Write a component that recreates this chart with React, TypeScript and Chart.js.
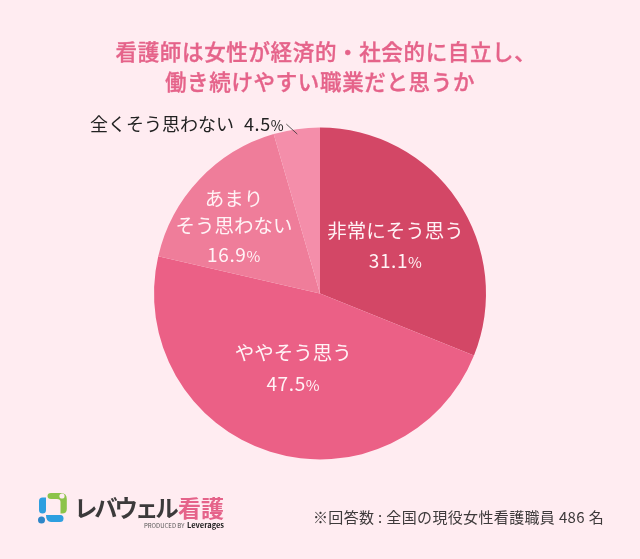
import React, { useEffect, useRef } from "react";
import { Chart, registerables } from "chart.js";

Chart.register(...registerables);

const FONT = '"Noto Sans CJK JP", "Noto Sans", sans-serif';

const titleLines = ["看護師は女性が経済的・社会的に自立し、", "働き続けやすい職業だと思うか"];
const categories = ["非常にそう思う", "ややそう思う", "あまり\nそう思わない", "全くそう思わない"];
const values = [31.1, 47.5, 16.9, 4.5];
const sliceColors = ["#D34766", "#EB6086", "#EF7D9A", "#F48EAA"];
const footnote = "※回答数 : 全国の現役女性看護職員 486 名";

const labelRadius = [0.535, 0.475, 0.655];
const labelShift = [[2, 3], [-3, 0], [-7, 12]];
const lineGap = 27;
const valueGap = [30, 31, 29];
const titleShift = [6, 0];

function drawValue(ctx: CanvasRenderingContext2D, value: number, x: number, y: number, color: string, align: "center" | "right", numSize: number, pctSize: number) {
  const num = value.toFixed(1);
  ctx.fillStyle = color;
  ctx.textBaseline = "alphabetic";
  ctx.textAlign = "left";
  (ctx as any).letterSpacing = "0.6px";
  ctx.font = `400 ${numSize}px ${FONT}`;
  const nw = ctx.measureText(num).width;
  ctx.font = `400 ${pctSize}px ${FONT}`;
  const pw = ctx.measureText("%").width;
  const left = align === "center" ? x - (nw + pw) / 2 : x - (nw + pw);
  ctx.font = `400 ${numSize}px ${FONT}`;
  ctx.fillText(num, left, y);
  ctx.font = `400 ${pctSize}px ${FONT}`;
  ctx.fillText("%", left + nw, y);
  (ctx as any).letterSpacing = "0px";
}

const sliceLabels = {
  id: "sliceLabels",
  afterDatasetsDraw(chart: any) {
    const { ctx } = chart;
    const arcs = chart.getDatasetMeta(0).data;
    ctx.save();
    arcs.forEach((arc: any, i: number) => {
      const mid = (arc.startAngle + arc.endAngle) / 2;
      if (i < 3) {
        const cx = arc.x + Math.cos(mid) * arc.outerRadius * labelRadius[i] + labelShift[i][0];
        const cy = arc.y + Math.sin(mid) * arc.outerRadius * labelRadius[i] + labelShift[i][1];
        const lines = categories[i].split("\n");
        let y = cy - (lines.length * 32 + 31) / 2 + 23;
        lines.forEach((line: string, k: number) => {
          ctx.fillStyle = "#FFF3F6";
          ctx.textAlign = "center";
          ctx.textBaseline = "alphabetic";
          ctx.font = `400 19.5px ${FONT}`;
          ctx.fillText(line, cx, y);
          if (k < lines.length - 1) y += lineGap;
        });
        drawValue(ctx, values[i], cx, y + valueGap[i], "#FFF3F6", "center", 19, 15);
      } else {
        const ex = arc.x + Math.cos(mid) * arc.outerRadius * 0.97;
        const ey = arc.y + Math.sin(mid) * arc.outerRadius * 0.97;
        ctx.strokeStyle = "#333333";
        ctx.lineWidth = 0.8;
        ctx.beginPath();
        ctx.moveTo(ex, ey);
        ctx.lineTo(ex - 11, ey - 10);
        ctx.stroke();
        const right = ex - 13;
        const by = ey - 3;
        drawValue(ctx, values[i], right, by, "#222222", "right", 18, 14);
        (ctx as any).letterSpacing = "0.6px";
        ctx.font = `400 18px ${FONT}`;
        const nw = ctx.measureText(values[i].toFixed(1)).width;
        (ctx as any).letterSpacing = "0px";
        ctx.fillStyle = "#222222";
        ctx.textAlign = "right";
        ctx.fillText(categories[i], right - nw - 23.5, by);
      }
    });
    ctx.restore();
  },
};

function Logo() {
  return (
    <svg width={70} height={50} style={{ position: "absolute", left: 30, top: 485 }}>
      <path d="M17.500 11 Q17.500 8 21 8 L31 8 Q36.800 8 36.800 14 L36.800 24 Q36.800 28.500 32 28.500 L30.500 28.500 L30.500 17 Q30.500 14 27 14 L21 14 Q17.500 14 17.500 11 Z" fill="#8CC34A" />
      <circle cx="32" cy="11" r="2.600" fill="#FFEDF1" />
      <path d="M9 16 Q9 12.500 12.500 12.500 L16 12.500 L16 25 Q16 28.500 12.500 28.500 Q9 28.500 9 25 Z" fill="#2E9FE0" />
      <path d="M16 30 L30.500 30 Q33.500 30 33.500 33.500 Q33.500 37 30 37 L21 37 Q16 37 16 30 Z" fill="#2E9FE0" />
      <circle cx="11.500" cy="35" r="3.500" fill="#2E86C8" />
    </svg>
  );
}

const abs: React.CSSProperties = { position: "absolute", whiteSpace: "nowrap", fontFamily: FONT, margin: 0 };

export default function App() {
  const ref = useRef<HTMLCanvasElement>(null);
  useEffect(() => {
    const chart = new Chart(ref.current!, {
      type: "pie",
      data: {
        labels: categories,
        datasets: [{ data: values, backgroundColor: sliceColors, borderWidth: 0 }],
      },
      options: {
        responsive: false,
        animation: false,
        layout: { padding: { top: 127, bottom: 99, left: 154, right: 154 } },
        plugins: { legend: { display: false }, tooltip: { enabled: false } },
      },
      plugins: [sliceLabels],
    });
    return () => chart.destroy();
  }, []);

  return (
    <div style={{ position: "fixed", left: 0, top: 0, width: 640, height: 559, background: "#FFECF1", overflow: "hidden" }}>
      <canvas ref={ref} width={640} height={559} style={{ position: "absolute", left: 0, top: 0, width: 640, height: 559 }} />
      {titleLines.map((t, i) => (
        <div key={t} style={{ ...abs, left: titleShift[i], width: 640, textAlign: "center", top: 36 + i * 30, fontSize: 21.5, lineHeight: "30px", fontWeight: 500, letterSpacing: 0.65, WebkitTextStroke: "0.35px #E5638A", color: "#E5638A" }}>
          {t}
        </div>
      ))}
      <Logo />
      <div style={{ ...abs, left: 74, top: 490, fontSize: 23.5, lineHeight: "34px", fontWeight: 700, color: "#3C3A3B", letterSpacing: -3.2 }}>レバウェル</div>
      <div style={{ ...abs, left: 178, top: 490, fontSize: 23, lineHeight: "34px", fontWeight: 700, color: "#E5638A" }}>看護</div>
      <div style={{ ...abs, left: 144, top: 520, fontSize: 6, lineHeight: "12px", color: "#555" }}>PRODUCED BY</div>
      <div style={{ ...abs, left: 187, top: 519, fontSize: 7.500, lineHeight: "12px", fontWeight: 700, color: "#222" }}>Leverages</div>
      <div style={{ ...abs, left: 313, top: 507, fontSize: 15, lineHeight: "20px", letterSpacing: 0.35, color: "#3E3A3B" }}>{footnote}</div>
    </div>
  );
}
